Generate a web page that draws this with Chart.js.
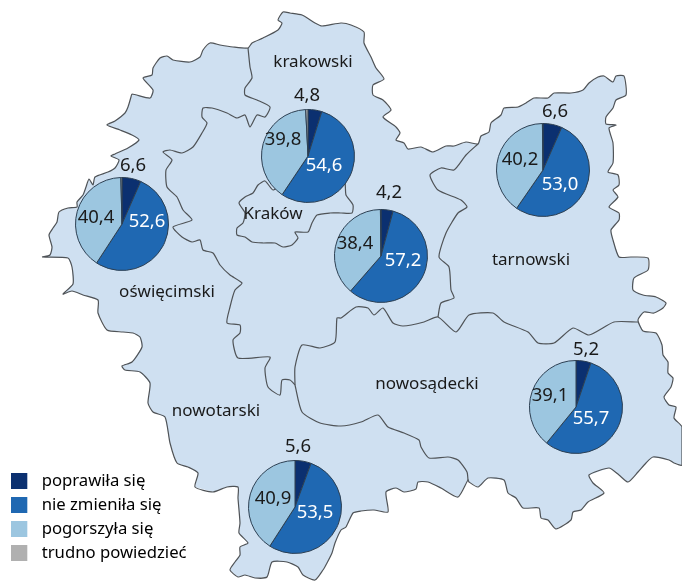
<!DOCTYPE html>
<html lang="pl">
<head>
<meta charset="utf-8">
<title>Małopolska</title>
<script src="https://cdn.jsdelivr.net/npm/chart.js@4/dist/chart.umd.min.js"></script>
<style>
html,body{margin:0;padding:0;background:#fff;width:682px;height:581px;overflow:hidden}
#stage{position:relative;width:682px;height:581px;overflow:hidden}
canvas{position:absolute;display:block}
</style>
</head>
<body>
<div id="stage"></div>
<script>
// ---- values ----
const categories = ['poprawiła się','nie zmieniła się','pogorszyła się','trudno powiedzieć'];
const poprawila   = [6.6,4.8,6.6,4.2,5.2,5.6];
const nieZmienila = [52.6,54.6,53.0,57.2,55.7,53.5];
const pogorszyla  = [40.4,39.8,40.2,38.4,39.1,40.9];
const trudno      = [0.4,0.8,0.2,0.2,0,0];
const regionNames = ['oświęcimski','krakowski','tarnowski','nowosądecki','nowotarski','Kraków'];
const regionAnchors = [[167,292],[313,62],[531,260],[427,384],[216,411],[273,214]];
const pieCentres  = [[122,224],[308,156],[543,169.5],[381,256],[576,406.5],[295,506.5]];
const labelOffsets = [
  [[11,-58],[25,-2],[-26,-6]],
  [[-1,-60],[16,10],[-25,-16]],
  [[12,-58.5],[17,15],[-23,-10]],
  [[8,-63],[22,5],[-26,-12]],
  [[10,-57],[15,12],[-26,-11]],
  [[3,-60],[20,5.5],[-22,-8.5]]
];
const seriesColors = ['#0b3070','#1f68b2','#9cc6e0','#b0b0b0'];

// ---- map outlines (page units) ----
const outerBorder = [[42,257],[50,255],[52,247],[49,235],[53,228],[57,222],[59,212],[68,208],[77,207],[77,202],[83,195],[86,187],[89,179],[93,185],[95,177],[108,172],[115,168],[119,160],[111,156],[115,154],[128,148],[139,140],[132,135],[120,130],[107,125],[115,121],[125,113],[128,107],[131,97],[132,94],[150,98],[153,90],[143,78],[152,75],[153,68],[160,58],[167,56],[173,60],[190,62],[200,57],[203,50],[210,43],[220,45],[233,47],[248,48],[252,43],[263,38],[278,30],[282,23],[278,20],[283,12],[290,13],[302,15],[315,23],[322,26],[341,23],[351,25],[364,32],[364,43],[371,57],[376,68],[384,79],[373,85],[373,95],[383,100],[391,110],[383,117],[396,127],[400,133],[396,140],[404,143],[408,149],[421,147],[433,152],[446,146],[454,146],[466,142],[478,144],[481,136],[489,132],[491,123],[501,115],[504,108],[518,107],[526,103],[534,98],[548,98],[554,93],[571,93],[583,90],[589,83],[598,77],[604,76],[613,82],[616,76],[624,76],[626,95],[616,100],[613,108],[606,117],[606,124],[616,125],[609,128],[613,143],[613,163],[608,172],[618,175],[619,185],[613,190],[618,197],[609,207],[619,213],[619,220],[611,230],[613,240],[619,257],[631,257],[648,258],[648,270],[634,278],[633,290],[643,295],[656,297],[666,303],[663,308],[654,313],[644,312],[638,320],[643,331],[656,333],[662,345],[663,355],[668,362],[668,373],[673,378],[671,387],[664,397],[669,405],[676,407],[674,418],[682,427],[682,465],[674,463],[669,460],[653,457],[646,463],[638,472],[628,482],[619,475],[609,468],[589,475],[593,483],[604,493],[588,502],[581,510],[573,512],[571,520],[556,529],[548,520],[541,518],[539,508],[523,508],[516,498],[508,493],[504,480],[488,478],[478,487],[469,482],[468,480],[458,497],[441,488],[428,482],[418,482],[416,489],[404,492],[396,488],[386,492],[388,512],[374,510],[361,511],[353,513],[346,527],[341,530],[335,543],[332,553],[327,563],[323,570],[315,580],[303,575],[298,567],[287,562],[272,562],[267,577],[255,578],[245,575],[238,577],[230,570],[235,562],[240,555],[240,547],[248,543],[239,533],[240,523],[238,498],[238,487],[227,487],[213,492],[195,487],[198,473],[188,467],[177,463],[170,443],[165,417],[153,412],[148,403],[150,383],[140,372],[125,370],[122,366],[132,362],[142,347],[140,337],[133,333],[123,332],[107,330],[98,313],[98,300],[83,295],[72,291],[63,294],[73,284],[72,267],[68,258],[42,257]];
const westBorder = [[248,48],[250,67],[252,78],[245,88],[245,95],[257,100],[270,107],[265,117],[257,115],[250,127],[245,115],[237,118],[227,113],[212,108],[203,108],[202,117],[207,123],[202,133],[193,147],[182,153],[170,150],[163,152],[172,160],[166,170],[167,187],[177,197],[183,210],[192,220],[173,227],[182,237],[192,242],[200,240],[203,250],[213,253],[220,265],[230,275],[242,283],[235,290],[230,307],[227,323],[240,325],[240,333],[233,340],[238,358],[270,357],[265,368],[268,387],[280,395],[282,380],[290,380],[295,385]];
const northSadecki = [[295,385],[295,367],[302,345],[320,348],[335,342],[337,318],[341,318],[356,307],[368,308],[374,315],[383,308],[393,323],[403,326],[424,322],[438,317],[456,332],[469,315],[493,313],[504,322],[528,332],[538,343],[554,343],[573,328],[589,335],[614,322],[638,322]];
const southSadecki = [[295,385],[302,412],[320,423],[341,426],[361,422],[378,415],[388,427],[404,433],[419,440],[421,447],[429,458],[448,457],[458,460],[467,472],[468,480]];
const tarnowWest = [[478,144],[466,155],[454,170],[441,168],[430,175],[438,190],[461,200],[467,207],[458,213],[446,233],[439,257],[449,267],[451,290],[454,298],[441,303],[438,317]];
const krakowCity = [[280,185],[273,190],[265,181],[258,185],[253,193],[245,197],[239,203],[245,213],[243,223],[237,228],[237,235],[245,237],[252,242],[263,243],[275,243],[283,247],[292,245],[298,238],[295,232],[308,232],[312,223],[317,215],[330,213],[341,213],[352,213],[353,205],[346,195],[345,183],[340,175]];

// ---- styles ----
const FONT = '"Noto Sans", sans-serif';
const TEXT = '#1a1a1a';
const LEGEND_LEFT = 4, LEGEND_BOTTOM = 12;
const toXY = a => a.map(p => ({x:p[0], y:p[1]}));
const lineSet = pts => ({data:toXY(pts), showLine:true, pointRadius:0, borderColor:'#4f5357', borderWidth:1.2, borderJoinStyle:'round', tension:0.2, fill:false, clip:false});

function legendSwatch(color){
  const c = document.createElement('canvas');
  c.width = 22; c.height = 16;
  const g = c.getContext('2d');
  g.fillStyle = color; g.fillRect(0,0,16,16);
  return c;
}
function addCanvas(w,h,left,top){
  const c = document.createElement('canvas');
  c.width = w; c.height = h;
  c.style.width = w+'px'; c.style.height = h+'px';
  c.style.left = left+'px'; c.style.top = top+'px';
  document.getElementById('stage').appendChild(c);
  return c.getContext('2d');
}

// fills the outer polygon under the border lines, and writes the region names
const mapPainter = {
  id:'mapPainter',
  beforeDatasetsDraw(chart){
    const pts = chart.getDatasetMeta(0).data, ctx = chart.ctx;
    ctx.save();
    ctx.beginPath();
    pts.forEach((p,i)=> i ? ctx.lineTo(p.x,p.y) : ctx.moveTo(p.x,p.y));
    ctx.closePath();
    ctx.fillStyle = '#cfe0f1';
    ctx.fill();
    ctx.restore();
  },
  afterDatasetsDraw(chart){
    const ctx = chart.ctx, sx = chart.scales.x, sy = chart.scales.y;
    ctx.save();
    ctx.font = '17px '+FONT; ctx.fillStyle = TEXT;
    ctx.textAlign = 'center'; ctx.textBaseline = 'middle';
    regionNames.forEach((n,i)=> ctx.fillText(n, sx.getPixelForValue(regionAnchors[i][0]), sy.getPixelForValue(regionAnchors[i][1])));
    ctx.restore();
  }
};

new Chart(addCanvas(682,581,0,0), {
  type:'scatter',
  data:{datasets:[outerBorder,westBorder,northSadecki,southSadecki,tarnowWest,krakowCity].map(lineSet)},
  options:{
    responsive:false, animation:false, events:[],
    layout:{padding:{left:LEGEND_LEFT,bottom:LEGEND_BOTTOM,top:0,right:0}},
    scales:{
      x:{type:'linear',display:false,min:LEGEND_LEFT,max:682},
      y:{type:'linear',display:false,reverse:true,min:0,max:581-LEGEND_BOTTOM}
    },
    plugins:{
      tooltip:{enabled:false},
      title:{display:false},
      legend:{
        display:true, position:'chartArea', align:'end',
        labels:{
          usePointStyle:true, pointStyleWidth:22, boxHeight:16, padding:7.3,
          color:TEXT, font:{family:FONT,size:16.7},
          generateLabels:()=>categories.map((t,i)=>({text:t,fillStyle:seriesColors[i],strokeStyle:seriesColors[i],lineWidth:0,pointStyle:legendSwatch(seriesColors[i]),hidden:false,index:i}))
        }
      }
    }
  },
  plugins:[mapPainter]
});

// ---- one pie per region ----
const fmt = v => v.toFixed(1).replace('.',',');
const PIE_BOX = 170, PIE_R = 46.5;
pieCentres.forEach((c,i)=>{
  const values = [poprawila[i],nieZmienila[i],pogorszyla[i],trudno[i]];
  const labeller = {
    id:'labeller',
    afterDatasetsDraw(chart){
      const ctx = chart.ctx, arc = chart.getDatasetMeta(0).data[0];
      ctx.save();
      ctx.font = '18.5px '+FONT;
      ctx.textAlign = 'center'; ctx.textBaseline = 'middle';
      labelOffsets[i].forEach((o,k)=>{
        ctx.fillStyle = k===1 ? '#ffffff' : TEXT;
        ctx.fillText(fmt(values[k]), arc.x+o[0], arc.y+o[1]);
      });
      ctx.restore();
    }
  };
  new Chart(addCanvas(PIE_BOX,PIE_BOX,c[0]-PIE_BOX/2,c[1]-PIE_BOX/2), {
    type:'pie',
    data:{labels:categories,datasets:[{data:values,backgroundColor:seriesColors,borderColor:'#2c3f52',borderWidth:1}]},
    options:{
      responsive:false, animation:false, events:[], radius:PIE_R,
      plugins:{legend:{display:false},tooltip:{enabled:false}}
    },
    plugins:[labeller]
  });
});
</script>
</body>
</html>
